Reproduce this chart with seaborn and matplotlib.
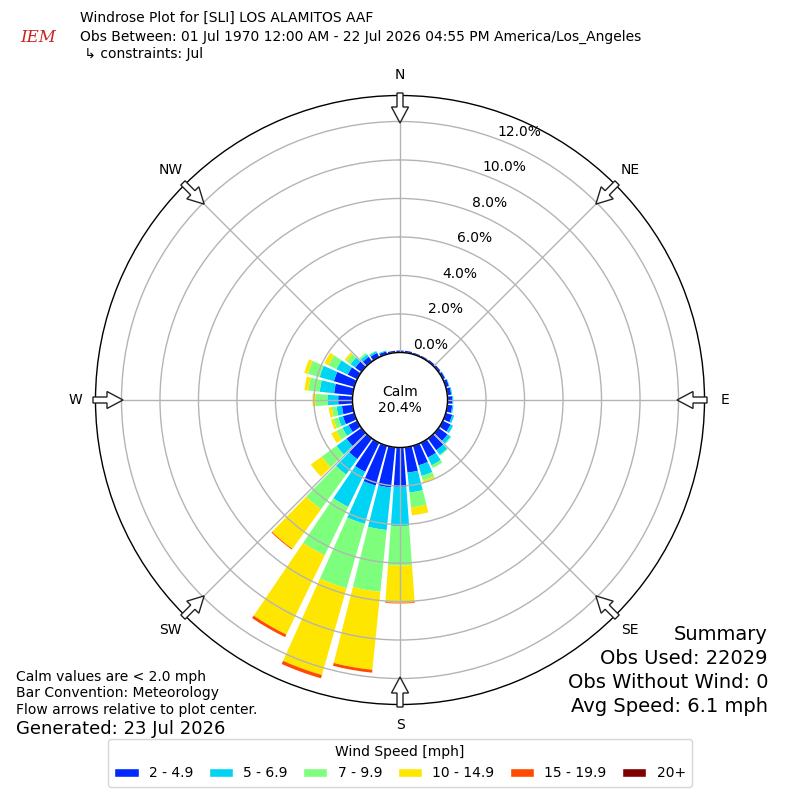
import numpy as np
import matplotlib
matplotlib.use("Agg")
import matplotlib.pyplot as plt
from matplotlib.patches import Circle, FancyArrow, Patch
import seaborn as sns

# wind directions (deg, meteorological) and speed bins
directions = np.arange(0, 360, 10)
speed_bins = ["2 - 4.9", "5 - 6.9", "7 - 9.9", "10 - 14.9", "15 - 19.9", "20+"]
bin_colors = ["#0028ff", "#00d4f5", "#7dff7d", "#ffe600", "#ff4a00", "#800000"]

# percent of obs per direction, one list per speed bin
pct_2_5 = [0.10, 0.10, 0.08, 0.08, 0.10, 0.12, 0.13, 0.17, 0.20, 0.25, 0.26, 0.35,
           0.45, 0.58, 0.75, 0.85, 1.06, 1.32, 2.05, 2.10, 2.15, 1.68, 1.32, 0.96,
           0.50, 0.61, 0.56, 0.74, 0.97, 1.10, 0.55, 0.40, 0.30, 0.25, 0.15, 0.10]
pct_5_7 = [0.00, 0.00, 0.00, 0.00, 0.00, 0.00, 0.02, 0.03, 0.05, 0.05, 0.06, 0.10,
           0.14, 0.20, 0.30, 0.45, 0.57, 1.04, 2.03, 2.22, 2.07, 2.02, 0.99, 0.64,
           0.35, 0.25, 0.28, 0.56, 0.75, 0.77, 0.65, 0.30, 0.15, 0.10, 0.05, 0.00]
pct_7_10 = [0.00, 0.00, 0.00, 0.00, 0.00, 0.00, 0.00, 0.00, 0.00, 0.00, 0.00, 0.00,
            0.01, 0.04, 0.05, 0.15, 0.25, 0.78, 2.05, 3.23, 3.48, 2.80, 2.22, 0.95,
            0.35, 0.26, 0.25, 0.60, 0.59, 0.63, 0.46, 0.25, 0.10, 0.03, 0.00, 0.00]
pct_10_15 = [0.00, 0.00, 0.00, 0.00, 0.00, 0.00, 0.00, 0.00, 0.00, 0.00, 0.00, 0.00,
             0.00, 0.00, 0.00, 0.00, 0.09, 0.41, 1.93, 4.07, 4.68, 4.57, 2.54, 0.70,
             0.30, 0.14, 0.16, 0.18, 0.21, 0.20, 0.24, 0.13, 0.00, 0.00, 0.00, 0.00]
pct_15_20 = [0.00] * 18 + [0.04, 0.15, 0.18, 0.15, 0.05] + [0.00] * 13
pct_20_up = [0.00] * 36

ring_ticks = [0, 2, 4, 6, 8, 10, 12]
compass = ["N", "NE", "E", "SE", "S", "SW", "W", "NW"]
calm_pct = 20.4

sns.set_theme(style="white")
plt.rcParams["font.family"] = ["DejaVu Sans"]
plt.rcParams["text.color"] = "black"

fig = plt.figure(figsize=(8, 8), dpi=100)
ax = fig.add_axes([95.5 / 800, 95.5 / 800, 609 / 800, 609 / 800], projection="polar")
ax.set_theta_zero_location("N")
ax.set_theta_direction(-1)

theta = np.radians(directions)
width = np.radians(8.3)
bottom = np.zeros(len(directions))
for vals, col in zip([pct_2_5, pct_5_7, pct_7_10, pct_10_15, pct_15_20, pct_20_up], bin_colors):
    vals = np.array(vals)
    ax.bar(theta, vals, width=width, bottom=bottom, color=col, edgecolor="none",
           align="center", zorder=1)
    bottom += vals

ax.set_ylim(0, 13.35)
ax.set_rorigin(-2.47)
ax.set_yticks(ring_ticks)
ax.set_yticklabels([])
ax.set_xticks(np.radians(np.arange(0, 360, 45)))
ax.set_xticklabels([])
ax.set_axisbelow(False)
ax.grid(True, color="#b4b4b4", lw=1)
ax.spines["polar"].set_color("black")
ax.spines["polar"].set_linewidth(1)
ax.set_facecolor("white")

for v in ring_ticks:
    ax.annotate(f"{v:.1f}%", xy=(np.radians(22.5), v), xytext=(9, 8),
                textcoords="offset points", ha="center", va="center", fontsize=10,
                color="black", zorder=6)

# calm circle
ax.add_patch(Circle((0.5, 0.5), 47.5 / 609, transform=ax.transAxes, facecolor="white",
                    edgecolor="black", lw=1.0, zorder=5, clip_on=False))
ax.text(0.5, 0.5, f"Calm\n{calm_pct}%", transform=ax.transAxes, ha="center",
        va="center", fontsize=10, color="black", zorder=6)

# compass arrows + labels
for i, lab in enumerate(compass):
    a = np.radians(i * 45)
    x0 = (400 + 307 * np.sin(a)) / 800
    y0 = (400 + 307 * np.cos(a)) / 800
    dx = -30 * np.sin(a) / 800
    dy = -30 * np.cos(a) / 800
    fig.add_artist(FancyArrow(x0, y0, dx, dy, width=6 / 800, head_width=17 / 800,
                              head_length=16 / 800, length_includes_head=True,
                              facecolor="white", edgecolor="#222222", lw=1,
                              transform=fig.transFigure, zorder=7))
    fig.text((400 + 325 * np.sin(a)) / 800, (400 + 325 * np.cos(a)) / 800, lab,
             ha="center", va="center", fontsize=10)

# header
fig.text(38 / 800, 1 - 38 / 800, "IEM", color="#cc2222", fontsize=12, style="italic",
         family="serif", ha="center", va="center")
fig.text(80 / 800, 1 - 18 / 800, "Windrose Plot for [SLI] LOS ALAMITOS AAF",
         fontsize=10, va="center")
fig.text(80 / 800, 1 - 37 / 800,
         "Obs Between: 01 Jul 1970 12:00 AM - 22 Jul 2026 04:55 PM America/Los_Angeles",
         fontsize=10, va="center")
fig.text(80 / 800, 1 - 54 / 800, " \u21b3 constraints: Jul", fontsize=10, va="center")

# footnotes
fig.text(16 / 800, 1 - 677 / 800, "Calm values are < 2.0 mph", fontsize=10, va="center")
fig.text(16 / 800, 1 - 693 / 800, "Bar Convention: Meteorology", fontsize=10, va="center")
fig.text(16 / 800, 1 - 710 / 800, "Flow arrows relative to plot center.", fontsize=10,
         va="center")
fig.text(16 / 800, 1 - 729 / 800, "Generated: 23 Jul 2026", fontsize=13, va="center")

summary = ["Summary", "Obs Used: 22029", "Obs Without Wind: 0", "Avg Speed: 6.1 mph"]
for j, s in enumerate(summary):
    fig.text(768 / 800, 1 - (635 + 24 * j) / 800, s, fontsize=14, ha="right", va="center")

handles = [Patch(facecolor=c, label=l) for c, l in zip(bin_colors, speed_bins)]
leg = fig.legend(handles=handles, loc="lower center", bbox_to_anchor=(0.5, 0.008),
                 ncol=6, title="Wind Speed [mph]", fontsize=10, title_fontsize=10,
                 handlelength=1.75, handleheight=0.65, handletextpad=0.75,
                 columnspacing=1.1, frameon=True, fancybox=True, edgecolor="#cccccc",
                 borderpad=0.45)
for t in leg.get_texts():
    t.set_color("black")
leg.get_title().set_color("black")

fig.savefig("out.png", dpi=100, facecolor="white")
